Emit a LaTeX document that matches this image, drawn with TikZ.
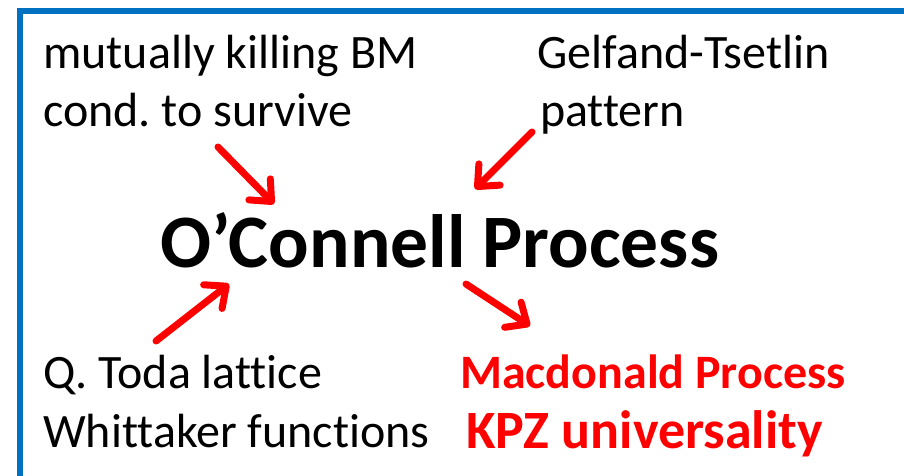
\documentclass[tikz,border=0pt]{standalone}
\usepackage{fontspec}
\setmainfont[Ligatures=NoCommon]{Carlito}
\usetikzlibrary{arrows.meta}
\definecolor{frameblue}{RGB}{0,112,192}
\definecolor{hotred}{RGB}{255,0,0}
\frenchspacing
\tikzset{
  lbl/.style={anchor=base west, inner sep=0pt, font=\fontsize{48}{56}\selectfont},
  hot/.style={lbl, text=hotred, font=\fontsize{48}{56}\selectfont\bfseries},
  title/.style={anchor=base west, inner sep=0pt, font=\fontsize{75.5}{86}\selectfont\bfseries},
  redarrow/.style={draw=hotred, line width=7pt, line cap=round, line join=round,
    -{Straight Barb[length=17pt, width=30pt, line cap=round, line join=round]}}
}
\begin{document}
\begin{tikzpicture}[x=1pt, y=-1pt]
  \useasboundingbox (0,0) rectangle (904,475);
  % frame: left and top edges
  \draw[frameblue, line width=6pt, line join=miter] (19.5,490) -- (19.5,11) -- (920,11);

  % surrounding notes
  \node[lbl] (mk) at (43,68) {mutually killing BM};
  \node[lbl] (cs) at (43,126) {cond. to survive};
  \node[lbl] (gt) at (537,68) {Gelfand-Tsetlin};
  \node[lbl] (pt) at (540,126) {pattern};
  \node[lbl] (qt) at (43,388) {Q. Toda lattice};
  \node[lbl] (wf) at (43,447) {Whittaker functions};
  \node[hot] (mp) at (460,388) {Macdonald Process};
  \node[hot, font=\fontsize{54}{62}\selectfont\bfseries] (kpz) at (466,448) {KPZ universality};

  % central process
  \node[title] (oc) at (160,267) {O’Connell Process};

  % arrow ends
  \coordinate (a1s) at (218,147);
  \coordinate (a1e) at (274,204);
  \coordinate (a2s) at (532,132);
  \coordinate (a2e) at (475,189);
  \coordinate (a3s) at (156,341);
  \coordinate (a3e) at (229,284);
  \coordinate (a4s) at (466,284);
  \coordinate (a4e) at (530,326);

  \draw[redarrow] (a1s) -- (a1e);
  \draw[redarrow] (a2s) -- (a2e);
  \draw[redarrow] (a3s) -- (a3e);
  \draw[redarrow] (a4s) -- (a4e);
\end{tikzpicture}
\end{document}
